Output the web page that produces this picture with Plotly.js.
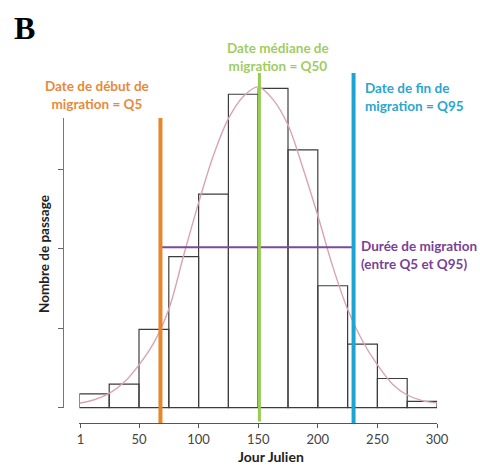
<!DOCTYPE html>
<html>
<head>
<meta charset="utf-8">
<script src="https://cdn.plot.ly/plotly-3.0.1.min.js"></script>
<style>html,body{margin:0;padding:0;background:#fff;}#chart{width:480px;height:466px;}</style>
</head>
<body>
<div id="chart"></div>
<script>
// ---- data ----
var binStarts = [0, 25, 50, 75, 100, 125, 150, 175, 200, 225, 250, 275];
var binCounts = [8.7, 14.9, 49.3, 95.1, 134.5, 197.4, 201.1, 162.3, 76.8, 40.1, 18.4, 4.0];
var curveX = [0, 12.5, 25, 37.5, 50, 62.5, 75, 87.5, 100, 112.5, 125, 137.5, 150, 162.5, 175, 187.5, 200, 212.5, 225, 237.5, 250, 262.5, 275, 287.5, 300];
var curveY = [2.8, 5, 9, 16, 27, 41, 62, 96, 129, 159, 182, 196, 202, 194, 178, 151, 121, 89, 62, 42, 27, 15, 8, 4.5, 3];
var q5 = [68];
var q50 = [151];
var q95 = [230];
var durationLevel = [101];
var tickVals = [1, 50, 100, 150, 200, 250, 300];
var tickText = ["1", "50", "100", "150", "200", "250", "300"];
var yTickVals = [0, 50, 100, 150];

// ---- geometry helpers (layout only) ----
var W = 480, H = 466;
var mL = 63, mR = 43, mT = 70, mB = 43;
var plotW = W - mL - mR, plotH = H - mT - mB;
function px(x) { return (x - mL) / plotW; }
function py(y) { return (H - mB - y) / plotH; }
var yMin = -9.63, yMax = 212.66;
var axisTopVal = 182.4;

var traces = [];
// dummy trace for the visible y axis (drawn first)
traces.push({type: 'scatter', x: [], y: [], xaxis: 'x', yaxis: 'y2', hoverinfo: 'skip'});
traces.push({
  type: 'bar', x: binStarts, y: binCounts, width: 25, offset: 0,
  marker: {color: 'rgba(0,0,0,0)', line: {color: '#3c3c3c', width: 1.2}},
  hoverinfo: 'skip'
});
traces.push({
  type: 'scatter', mode: 'lines', x: curveX, y: curveY,
  line: {color: '#d9a3b6', width: 1.4, shape: 'spline'}, hoverinfo: 'skip'
});
traces.push({
  type: 'scatter', mode: 'lines', x: [q5[0], q95[0]], y: [durationLevel[0], durationLevel[0]],
  line: {color: '#7b4a9c', width: 2}, hoverinfo: 'skip'
});
traces.push({
  type: 'scatter', mode: 'lines', x: [q5[0], q5[0]], y: [yMin, axisTopVal],
  line: {color: '#e8862e', width: 4}, hoverinfo: 'skip'
});
traces.push({
  type: 'scatter', mode: 'lines', x: [q50[0], q50[0]], y: [yMin + 1, 210.8],
  line: {color: '#96cc52', width: 3}, hoverinfo: 'skip'
});
traces.push({
  type: 'scatter', mode: 'lines', x: [q95[0], q95[0]], y: [yMin, 210.8],
  line: {color: '#1ea4d2', width: 4}, hoverinfo: 'skip'
});

var ann = [];
function A(text, x, y, opts) {
  var o = {text: text, x: px(x), y: py(y), xref: 'paper', yref: 'paper', showarrow: false,
           xanchor: 'center', yanchor: 'middle', align: 'center',
           font: {family: 'Lato, sans-serif', size: 13.5, color: '#000'}};
  for (var k in opts) o[k] = opts[k];
  return o;
}
ann.push(A('<b>B</b>', 12, 28, {xanchor: 'left', font: {family: 'Liberation Serif, Times New Roman, serif', size: 32, color: '#000'}}));
ann.push(A('<b>Date de début de<br>migration = Q5</b>', 97, 95, {font: {family: 'Lato, sans-serif', size: 13.5, color: '#e8893a'}}));
ann.push(A('<b>Date médiane de<br>migration = Q50</b>', 278, 56.5, {font: {family: 'Lato, sans-serif', size: 13.5, color: '#9fcd5f'}}));
ann.push(A('<b>Date de fin de<br>migration = Q95</b>', 363, 97, {xanchor: 'left', align: 'left', font: {family: 'Lato, sans-serif', size: 13.5, color: '#2aa6cf'}}));
ann.push(A('<b>Durée de migration<br>(entre Q5 et Q95)</b>', 359, 255, {xanchor: 'left', align: 'left', font: {family: 'Lato, sans-serif', size: 13.5, color: '#7a3f98'}}));
ann.push(A('<b>Nombre de passage</b>', 44, 254, {textangle: -90, font: {family: 'Lato, sans-serif', size: 13.5, color: '#222'}}));
ann.push(A('<b>Jour Julien</b>', 271, 456, {font: {family: 'Lato, sans-serif', size: 14, color: '#222'}}));

var layout = {
  width: W, height: H,
  margin: {l: mL, r: mR, t: mT, b: mB, pad: 0},
  paper_bgcolor: '#fff', plot_bgcolor: 'rgba(0,0,0,0)',
  showlegend: false, hovermode: false,
  xaxis: {
    domain: [px(79.4), 1], range: [0, 300], tickvals: tickVals, ticktext: tickText,
    showline: true, linecolor: '#555', linewidth: 1, ticks: 'outside', ticklen: 4, tickcolor: '#555',
    showgrid: false, zeroline: false, tickfont: {family: 'Lato, sans-serif', size: 13, color: '#444'}
  },
  yaxis: {domain: [0, 1], range: [yMin, yMax], visible: false, showgrid: false, zeroline: false},
  yaxis2: {
    domain: [py(407.7), py(118)], range: [0, axisTopVal], anchor: 'free', position: 0,
    tickvals: yTickVals, showticklabels: false, ticks: 'outside', ticklen: 5, tickcolor: '#666',
    showline: true, linecolor: '#777', linewidth: 1, showgrid: false, zeroline: false
  },
  annotations: ann
};
Plotly.newPlot('chart', traces, layout, {displayModeBar: false, staticPlot: true});
</script>
</body>
</html>
